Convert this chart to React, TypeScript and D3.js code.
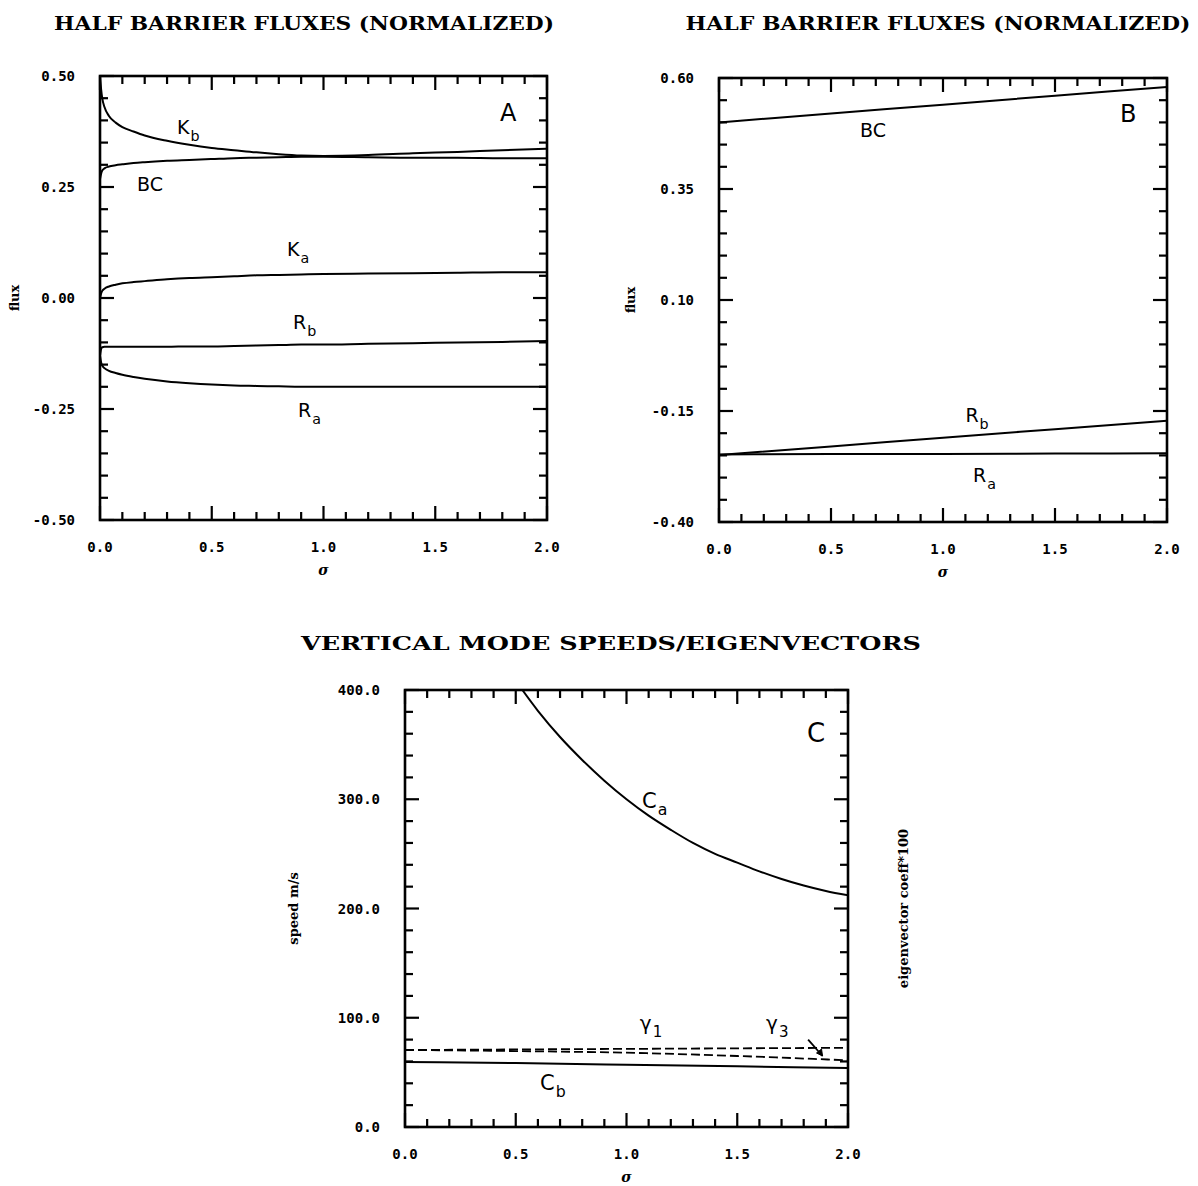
import { useEffect, useRef } from "react";
import * as d3 from "d3";

// panel A: half barrier fluxes vs sigma
const sigmaA = [0, 0.005, 0.01, 0.02, 0.04, 0.07, 0.1, 0.15, 0.2, 0.3, 0.4, 0.5, 0.6, 0.7, 0.8, 0.9, 1.0, 1.2, 1.4, 1.6, 1.8, 2.0];
const kbA = [0.5, 0.47, 0.45, 0.43, 0.41, 0.395, 0.385, 0.375, 0.366, 0.354, 0.345, 0.338, 0.333, 0.328, 0.324, 0.321, 0.32, 0.322, 0.326, 0.329, 0.333, 0.336];
const bcA = [0.268, 0.28, 0.287, 0.292, 0.296, 0.299, 0.301, 0.304, 0.306, 0.309, 0.311, 0.313, 0.315, 0.316, 0.317, 0.318, 0.318, 0.317, 0.316, 0.316, 0.315, 0.315];
const kaA = [0.0, 0.01, 0.016, 0.021, 0.026, 0.03, 0.033, 0.036, 0.038, 0.042, 0.045, 0.047, 0.049, 0.051, 0.052, 0.053, 0.054, 0.055, 0.056, 0.057, 0.058, 0.058];
const rbA = [-0.13, -0.115, -0.111, -0.11, -0.11, -0.11, -0.11, -0.11, -0.11, -0.11, -0.109, -0.109, -0.108, -0.107, -0.106, -0.105, -0.105, -0.103, -0.102, -0.1, -0.099, -0.097];
const raA = [-0.13, -0.145, -0.152, -0.158, -0.164, -0.169, -0.173, -0.178, -0.182, -0.188, -0.192, -0.195, -0.197, -0.198, -0.199, -0.2, -0.2, -0.2, -0.2, -0.2, -0.2, -0.2];

// panel B
const sigmaB = [0, 0.5, 1.0, 1.5, 2.0];
const bcB = [0.5, 0.52, 0.54, 0.56, 0.58];
const rbB = [-0.249, -0.23, -0.21, -0.191, -0.172];
const raB = [-0.248, -0.247, -0.247, -0.246, -0.245];

// panel C: vertical mode speeds / eigenvectors
const sigmaCa = [0.53, 0.6, 0.7, 0.8, 0.9, 1.0, 1.1, 1.2, 1.3, 1.4, 1.5, 1.6, 1.7, 1.8, 1.9, 2.0];
const caC = [400, 381, 357, 336, 317, 300, 285, 272, 260, 250, 242, 234, 227, 221, 216, 212];
const sigmaC = [0, 0.5, 1.0, 1.5, 2.0];
const cbC = [59.5, 58.5, 57, 55.5, 54];
const gamma1C = [70.5, 71, 71.5, 72, 72.5];
const gamma3C = [70.5, 69.5, 68, 65, 61];

const xTickLabels = ["0.0", "0.5", "1.0", "1.5", "2.0"];
const yLabelsA = ["-0.50", "-0.25", "0.00", "0.25", "0.50"];
const yLabelsB = ["-0.40", "-0.15", "0.10", "0.35", "0.60"];
const yLabelsC = ["0.0", "100.0", "200.0", "300.0", "400.0"];

const tickFont = "'DejaVu Sans Mono', monospace";
const labelFont = "'DejaVu Sans', sans-serif";
const serif = "'DejaVu Serif', serif";

function drawPanel(svg, o) {
  const x = d3.scaleLinear().domain([0, 2]).range([o.left, o.left + o.width]);
  const y = d3.scaleLinear().domain(o.yDomain).range([o.top + o.height, o.top]);
  const g = svg.append("g");

  const clipId = "clip" + o.id;
  g.append("clipPath").attr("id", clipId)
    .append("rect").attr("x", o.left).attr("y", o.top).attr("width", o.width).attr("height", o.height);

  // curves
  const line = d3.line().x(d => x(d[0])).y(d => y(d[1])).curve(d3.curveMonotoneX);
  o.series.forEach(s => {
    g.append("path")
      .attr("d", line.curve(s.curve || d3.curveMonotoneX)(s.xs.map((v, i) => [v, s.ys[i]])))
      .attr("fill", "none")
      .attr("stroke", "#000")
      .attr("stroke-width", s.width || 2)
      .attr("stroke-dasharray", s.dash || null)
      .attr("clip-path", "url(#" + clipId + ")");
  });

  // ticks, inward on all four sides
  const minor = 8, major = 14;
  d3.range(0, 21).forEach(i => {
    const len = i % 5 === 0 ? major : minor;
    const xv = x(i / 10);
    g.append("line").attr("x1", xv).attr("x2", xv).attr("y1", o.top + o.height).attr("y2", o.top + o.height - len);
    g.append("line").attr("x1", xv).attr("x2", xv).attr("y1", o.top).attr("y2", o.top + len);
    const yv = y(o.yDomain[0] + (o.yDomain[1] - o.yDomain[0]) * i / 20);
    g.append("line").attr("x1", o.left).attr("x2", o.left + len).attr("y1", yv).attr("y2", yv);
    g.append("line").attr("x1", o.left + o.width).attr("x2", o.left + o.width - len).attr("y1", yv).attr("y2", yv);
  });
  g.selectAll("line").attr("stroke", "#000").attr("stroke-width", 2.2);

  g.append("rect").attr("x", o.left).attr("y", o.top).attr("width", o.width).attr("height", o.height)
    .attr("fill", "none").attr("stroke", "#000").attr("stroke-width", 2.6);

  // tick labels
  xTickLabels.forEach((t, i) => {
    g.append("text").attr("x", x(i * 0.5)).attr("y", o.top + o.height + 32)
      .attr("text-anchor", "middle").attr("font-family", tickFont).attr("font-weight", "bold")
      .attr("font-size", 14).text(t);
  });
  o.yLabels.forEach((t, i) => {
    const v = o.yDomain[0] + (o.yDomain[1] - o.yDomain[0]) * i / 4;
    g.append("text").attr("x", o.left - 25).attr("y", y(v) + 5)
      .attr("text-anchor", "end").attr("font-family", tickFont).attr("font-weight", "bold")
      .attr("font-size", 14).text(t);
  });

  // axis titles
  g.append("text").attr("x", o.left + o.width / 2).attr("y", o.top + o.height + 55)
    .attr("text-anchor", "middle").attr("font-family", serif).attr("font-style", "italic")
    .attr("font-weight", "bold").attr("font-size", 14).text("σ");
  g.append("text")
    .attr("transform", "translate(" + (o.left - o.yTitleOff) + "," + (o.top + o.height / 2) + ") rotate(-90)")
    .attr("text-anchor", "middle").attr("font-family", serif).attr("font-weight", "bold")
    .attr("font-size", 13).text(o.yTitle);
  if (o.rightTitle) {
    g.append("text")
      .attr("transform", "translate(" + (o.left + o.width + 60) + "," + (o.top + o.height / 2) + ") rotate(-90)")
      .attr("text-anchor", "middle").attr("font-family", serif).attr("font-weight", "bold")
      .attr("font-size", 13).text(o.rightTitle);
  }

  // curve labels
  o.labels.forEach(l => {
    const t = g.append("text").attr("x", x(l.sx)).attr("y", y(l.sy))
      .attr("font-family", labelFont).attr("font-size", l.size || 19);
    t.append("tspan").text(l.text);
    if (l.sub) {
      t.append("tspan").attr("dy", l.size ? l.size * 0.35 : 7).attr("dx", 1)
        .attr("font-size", (l.size || 19) * 0.75).text(l.sub);
    }
  });

  // title
  g.append("text").attr("x", o.titleX).attr("y", o.titleY).attr("text-anchor", "middle")
    .attr("font-family", serif).attr("font-weight", "bold").attr("font-size", 19)
    .attr("textLength", o.titleLen).attr("lengthAdjust", "spacingAndGlyphs").text(o.title);

  return { x, y, g };
}

export default function App() {
  const ref = useRef(null);

  useEffect(() => {
    const svg = d3.select(ref.current);
    svg.selectAll("*").remove();

    drawPanel(svg, {
      id: "A", left: 100, top: 76, width: 447, height: 444, yDomain: [-0.5, 0.5],
      yLabels: yLabelsA, yTitle: "flux", yTitleOff: 81,
      title: "HALF BARRIER FLUXES (NORMALIZED)", titleX: 304, titleY: 30, titleLen: 500,
      series: [
        { xs: sigmaA, ys: kbA }, { xs: sigmaA, ys: bcA }, { xs: sigmaA, ys: kaA },
        { xs: sigmaA, ys: rbA }, { xs: sigmaA, ys: raA },
      ],
      labels: [
        { text: "K", sub: "b", sx: 0.345, sy: 0.369 },
        { text: "BC", sx: 0.166, sy: 0.241 },
        { text: "K", sub: "a", sx: 0.837, sy: 0.095 },
        { text: "R", sub: "b", sx: 0.864, sy: -0.07 },
        { text: "R", sub: "a", sx: 0.886, sy: -0.268 },
        { text: "A", sx: 1.79, sy: 0.399, size: 24 },
      ],
    });

    drawPanel(svg, {
      id: "B", left: 719, top: 78, width: 448, height: 444, yDomain: [-0.4, 0.6],
      yLabels: yLabelsB, yTitle: "flux", yTitleOff: 84,
      title: "HALF BARRIER FLUXES (NORMALIZED)", titleX: 938, titleY: 30, titleLen: 505,
      series: [{ xs: sigmaB, ys: bcB }, { xs: sigmaB, ys: rbB }, { xs: sigmaB, ys: raB }],
      labels: [
        { text: "BC", sx: 0.63, sy: 0.467 },
        { text: "B", sx: 1.79, sy: 0.5, size: 24 },
        { text: "R", sub: "b", sx: 1.1, sy: -0.175 },
        { text: "R", sub: "a", sx: 1.134, sy: -0.31 },
      ],
    });

    const c = drawPanel(svg, {
      id: "C", left: 405, top: 690, width: 443, height: 437, yDomain: [0, 400],
      yLabels: yLabelsC, yTitle: "speed m/s", yTitleOff: 107, rightTitle: "eigenvector coeff*100",
      title: "VERTICAL MODE SPEEDS/EIGENVECTORS", titleX: 611, titleY: 650, titleLen: 620,
      series: [
        { xs: sigmaCa, ys: caC, curve: d3.curveCatmullRom }, { xs: sigmaC, ys: cbC },
        { xs: sigmaC, ys: gamma1C, dash: "9,4", width: 1.8 },
        { xs: sigmaC, ys: gamma3C, dash: "9,4", width: 1.8 },
      ],
      labels: [
        { text: "C", sx: 1.815, sy: 352, size: 26 },
        { text: "C", sub: "a", sx: 1.07, sy: 292, size: 21 },
        { text: "C", sub: "b", sx: 0.61, sy: 34, size: 21 },
        { text: "γ", sub: "1", sx: 1.06, sy: 89, size: 20 },
        { text: "γ", sub: "3", sx: 1.63, sy: 89, size: 20 },
      ],
    });

    // arrow from the gamma-3 label to its curve
    const ax1 = c.x(1.82), ay1 = c.y(80), ax2 = c.x(1.885), ay2 = c.y(65);
    c.g.append("line").attr("x1", ax1).attr("y1", ay1).attr("x2", ax2).attr("y2", ay2)
      .attr("stroke", "#000").attr("stroke-width", 1.8);
    c.g.append("path")
      .attr("d", "M" + (ax2 - 6) + "," + (ay2 - 3) + "L" + ax2 + "," + ay2 + "L" + (ax2 - 1) + "," + (ay2 - 7) + "Z")
      .attr("fill", "#000").attr("stroke", "#000").attr("stroke-width", 1);
  }, []);

  return (
    <svg ref={ref} width={1198} height={1186}
      style={{ position: "absolute", left: 0, top: 0, background: "#fff", display: "block" }} />
  );
}
